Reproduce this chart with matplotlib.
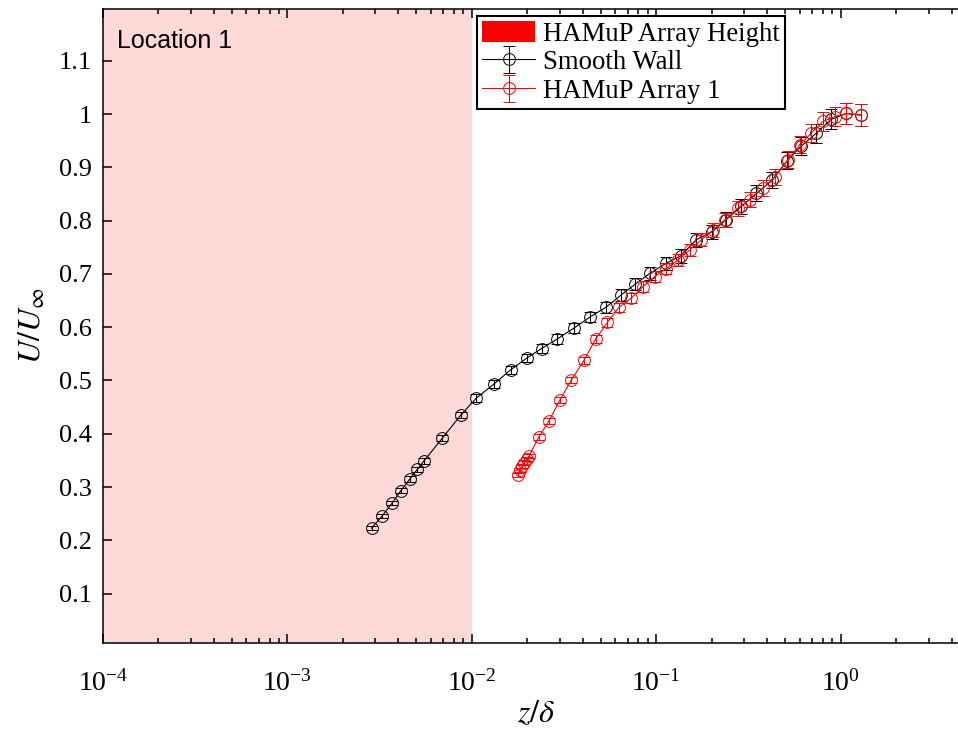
import matplotlib
matplotlib.use("Agg")
import matplotlib.pyplot as plt
from matplotlib.patches import Patch
from matplotlib.ticker import LogLocator, NullFormatter

plt.rcParams['font.family'] = ['Liberation Serif', 'DejaVu Serif']
plt.rcParams['mathtext.fontset'] = 'stix'

# smooth wall profile
sw_z = [0.00286, 0.00327, 0.00370, 0.00412, 0.00461, 0.00506, 0.00550, 0.00693,
        0.00871, 0.01059, 0.01315, 0.01625, 0.01986, 0.02388, 0.0291, 0.0357,
        0.0437, 0.0532, 0.0643, 0.0771, 0.0923, 0.1135, 0.136, 0.165, 0.2005,
        0.240, 0.290, 0.349, 0.427, 0.512, 0.612, 0.738, 0.891, 1.074, 1.295]
sw_u = [0.223, 0.246, 0.270, 0.293, 0.315, 0.333, 0.349, 0.392, 0.435, 0.467,
        0.493, 0.520, 0.542, 0.560, 0.578, 0.598, 0.619, 0.637, 0.660, 0.681,
        0.701, 0.720, 0.734, 0.764, 0.779, 0.802, 0.827, 0.851, 0.876, 0.912,
        0.940, 0.964, 0.990, 1.001, 0.998]
sw_err = [0.004, 0.004, 0.004, 0.005, 0.005, 0.005, 0.005, 0.006, 0.006, 0.007,
          0.007, 0.008, 0.008, 0.008, 0.009, 0.009, 0.010, 0.010, 0.011, 0.011,
          0.012, 0.012, 0.013, 0.013, 0.013, 0.014, 0.014, 0.015, 0.015, 0.016,
          0.017, 0.018, 0.019, 0.020, 0.020]

# HAMuP array 1 profile
ar_z = [0.01782, 0.0182, 0.01875, 0.0192, 0.0198, 0.0204, 0.0231, 0.0262,
        0.0300, 0.0347, 0.0406, 0.0470, 0.0544, 0.0628, 0.0734, 0.0848, 0.0982,
        0.1135, 0.131, 0.152, 0.176, 0.203, 0.235, 0.277, 0.321, 0.379, 0.439,
        0.518, 0.600, 0.693, 0.802, 0.927, 1.074, 1.295]
ar_u = [0.323, 0.332, 0.340, 0.346, 0.352, 0.358, 0.394, 0.424, 0.463, 0.501,
        0.538, 0.578, 0.609, 0.637, 0.655, 0.676, 0.695, 0.710, 0.726, 0.745,
        0.764, 0.782, 0.801, 0.823, 0.839, 0.861, 0.882, 0.914, 0.942, 0.964,
        0.986, 0.995, 1.001, 0.998]
ar_err = [0.004, 0.004, 0.004, 0.004, 0.004, 0.004, 0.005, 0.005, 0.006, 0.006,
          0.007, 0.008, 0.008, 0.009, 0.009, 0.010, 0.010, 0.011, 0.011, 0.012,
          0.012, 0.013, 0.013, 0.014, 0.014, 0.015, 0.015, 0.016, 0.016, 0.017,
          0.018, 0.018, 0.019, 0.020]

array_height = 1e-2
yticks = [0.1, 0.2, 0.3, 0.4, 0.5, 0.6, 0.7, 0.8, 0.9, 1.0, 1.1]
ytick_labels = ['0.1', '0.2', '0.3', '0.4', '0.5', '0.6', '0.7', '0.8', '0.9', '1', '1.1']

fig = plt.figure(figsize=(9.58, 7.34), dpi=100)
ax = fig.add_axes([0.1075, 0.1244, 0.9045, 0.8633])

ax.axvspan(1e-5, array_height, facecolor='#FFD8D8', edgecolor='none', zorder=0)

ax.errorbar(sw_z, sw_u, yerr=sw_err, color='black', marker='o', mfc='none',
            ms=8.5, mew=0.7, lw=0.8, elinewidth=0.8, capsize=4.5, capthick=0.8,
            label='Smooth Wall', zorder=2)
ax.errorbar(ar_z, ar_u, yerr=ar_err, color='red', marker='o', mfc='none',
            ms=8.5, mew=0.7, lw=0.8, elinewidth=0.8, capsize=4.5, capthick=0.8,
            label='HAMuP Array 1', zorder=3)

ax.set_xscale('log')
ax.set_xlim(1e-4, 5)
ax.set_ylim(0.008, 1.197)
ax.set_yticks(yticks)
ax.set_yticklabels(ytick_labels)
ax.xaxis.set_major_locator(LogLocator(base=10, numticks=10))
ax.xaxis.set_minor_locator(LogLocator(base=10, subs=range(2, 10), numticks=20))
ax.xaxis.set_minor_formatter(NullFormatter())

ax.tick_params(which='both', direction='in', top=True, right=True, labelsize=19,
               width=1.1)
ax.tick_params(axis='y', pad=8)
ax.tick_params(axis='x', pad=20, labelsize=20)
ax.tick_params(which='major', length=6.5)
ax.tick_params(which='minor', length=3.5)
for sp in ax.spines.values():
    sp.set_linewidth(1.1)

ax.set_xlabel(r'$z/\delta$', fontsize=23, labelpad=2)
ax.set_ylabel(r'$U/U_\infty$', fontsize=23, labelpad=8)

ax.text(0.016, 0.95, 'Location 1', transform=ax.transAxes, fontsize=18,
        family='Liberation Sans', va='center', ha='left')

handles, labels = ax.get_legend_handles_labels()
handles = [Patch(facecolor='red', edgecolor='none')] + handles
labels = ['HAMuP Array Height'] + labels
leg = ax.legend(handles, labels, loc='upper left', bbox_to_anchor=(0.4316, 0.989),
                borderaxespad=0, fontsize=19.3, handlelength=2.0, handleheight=0.85,
                handletextpad=0.3, labelspacing=0.1, borderpad=0.18,
                fancybox=False, framealpha=1, edgecolor='black')
leg.get_frame().set_linewidth(1.5)

fig.savefig('out.png', dpi=100)
